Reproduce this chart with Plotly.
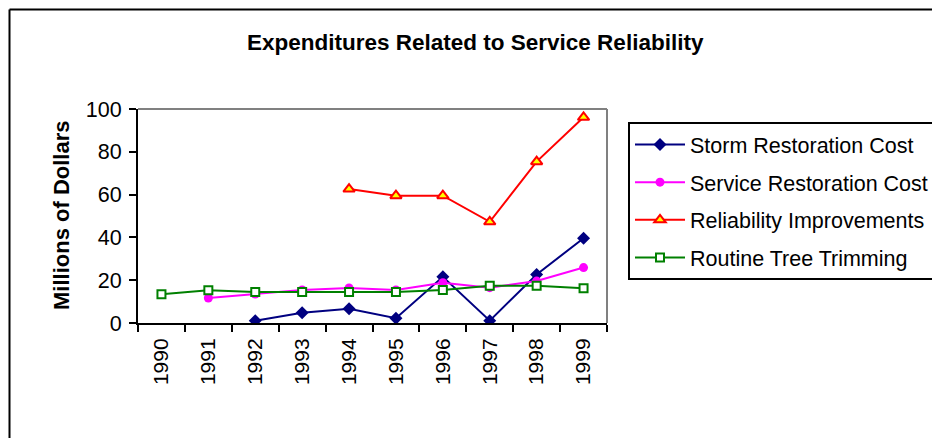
import plotly.graph_objects as go

years = ["1990", "1991", "1992", "1993", "1994", "1995", "1996", "1997", "1998", "1999"]
storm = [None, None, 1.1, 4.8, 6.7, 2.2, 21.6, 1.1, 22.7, 39.6]
service = [None, 11.7, 13.5, 15.4, 16.4, 15.4, 18.8, 16.5, 19.6, 25.9]
reliability = [None, None, None, None, 62.6, 59.5, 59.5, 47.3, 75.4, 96.1]
trimming = [13.4, 15.3, 14.5, 14.5, 14.5, 14.5, 15.4, 17.4, 17.4, 16.2]

W, H = 932, 438
L, R, T, B = 138, 607, 109, 323

def px(x):
    return (x - L) / (R - L)

def py(y):
    return (B - y) / (B - T)

FONT = "Liberation Sans, Arial, sans-serif"

fig = go.Figure()
fig.add_trace(go.Scatter(x=years, y=storm, name="Storm Restoration Cost", mode="lines+markers",
                         line=dict(color="#000080", width=2),
                         marker=dict(symbol="diamond", size=10, color="#000080"),
                         legendgroup="a"))
fig.add_trace(go.Scatter(x=years, y=service, name="Service Restoration Cost", mode="lines+markers",
                         line=dict(color="#FF00FF", width=2),
                         marker=dict(symbol="circle", size=9, color="#FF00FF"),
                         legendgroup="b"))
fig.add_trace(go.Scatter(x=years, y=reliability, name="Reliability Improvements", mode="lines+markers",
                         line=dict(color="#FF0000", width=2),
                         marker=dict(symbol="triangle-up", size=10, color="#FFFF00",
                                     line=dict(color="#FF0000", width=2)),
                         legendgroup="c"))
fig.add_trace(go.Scatter(x=years, y=trimming, name="Routine Tree Trimming", mode="lines+markers",
                         line=dict(color="#008000", width=2),
                         marker=dict(symbol="square", size=8, color="#FFFFFF",
                                     line=dict(color="#008000", width=2)),
                         legendgroup="d"))

fig.update_layout(
    width=W, height=H,
    margin=dict(l=L, r=W - R, t=T, b=H - B, pad=0, autoexpand=False),
    paper_bgcolor="white", plot_bgcolor="white",
    font=dict(family=FONT, size=21.5, color="black"),
    showlegend=True,
    legend=dict(x=px(628), y=py(122), xanchor="left", yanchor="top",
                bordercolor="black", borderwidth=2, bgcolor="white",
                font=dict(size=21.5), tracegroupgap=6.7, itemwidth=50,
                traceorder="grouped", entrywidth=260, entrywidthmode="pixels"),
    xaxis=dict(type="category", range=[-0.5, 9.5], tickson="boundaries", ticks="outside",
               ticklen=7, tickwidth=2, tickcolor="black", showline=True, linecolor="black",
               linewidth=2, showgrid=False, tickangle=-90, zeroline=False,
               tickfont=dict(size=21), ticklabelstandoff=5),
    yaxis=dict(range=[0, 100], dtick=20, ticks="outside", ticklen=7, tickwidth=2,
               tickcolor="black", showline=True, linecolor="black", linewidth=2,
               showgrid=False, zeroline=False, tickfont=dict(size=21.5),
               ticklabelstandoff=3),
    annotations=[
        dict(text="<b>Expenditures Related to Service Reliability</b>", xref="paper", yref="paper",
             x=px(475), y=py(42), xanchor="center", yanchor="middle", showarrow=False,
             font=dict(size=22.5)),
        dict(text="<b>Millions of Dollars</b>", xref="paper", yref="paper",
             x=px(61), y=py(216), xanchor="center", yanchor="middle", showarrow=False,
             textangle=-90, font=dict(size=22)),
    ],
    shapes=[
        dict(type="line", xref="paper", yref="paper", x0=0, x1=1, y0=1, y1=1,
             line=dict(color="#808080", width=2)),
        dict(type="line", xref="paper", yref="paper", x0=1, x1=1, y0=0, y1=1,
             line=dict(color="#808080", width=2)),
        dict(type="line", xref="paper", yref="paper", x0=px(9.5), x1=px(960), y0=py(9.5), y1=py(9.5),
             line=dict(color="black", width=2)),
        dict(type="line", xref="paper", yref="paper", x0=px(9.5), x1=px(9.5), y0=py(9.5), y1=py(460),
             line=dict(color="black", width=2)),
    ],
)

fig.write_html("out.html")
